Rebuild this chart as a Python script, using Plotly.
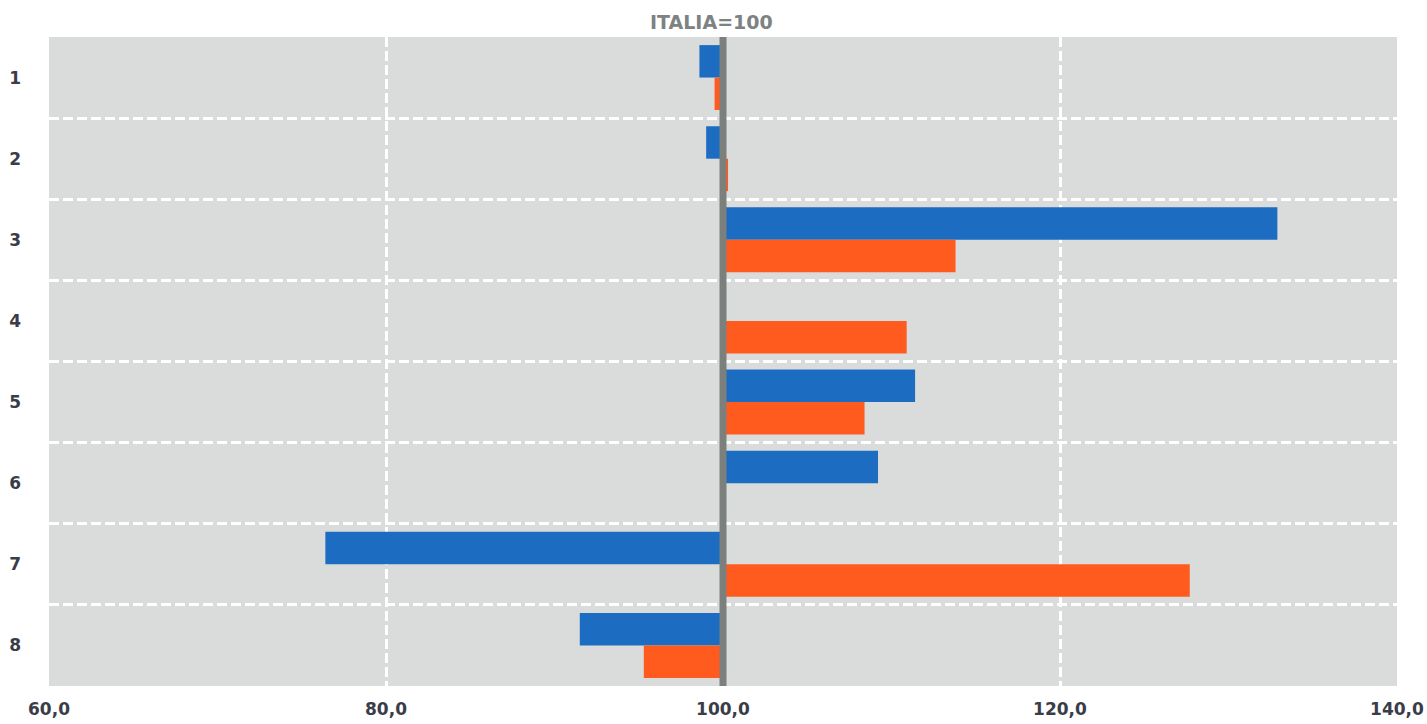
import plotly.graph_objects as go

categories = ["1", "2", "3", "4", "5", "6", "7", "8"]
blue_values = [98.6, 99.0, 132.9, 100.0, 111.4, 109.2, 76.4, 91.5]
orange_values = [99.5, 100.3, 113.8, 110.9, 108.4, 100.0, 127.7, 95.3]
reference = 100.0
x_ticks = [60, 80, 100, 120, 140]
x_tick_labels = ["60,0", "80,0", "100,0", "120,0", "140,0"]
ref_label = "ITALIA=100"

BLUE = "#1c6dc2"
ORANGE = "#ff5b1f"
BG = "#dadcdb"
TXT = "#3a3c48"

fig = go.Figure()
fig.add_trace(go.Bar(
    y=categories, x=[v - reference for v in blue_values], base=reference,
    orientation="h", marker=dict(color=BLUE, line=dict(width=0)), name="A",
))
fig.add_trace(go.Bar(
    y=categories, x=[v - reference for v in orange_values], base=reference,
    orientation="h", marker=dict(color=ORANGE, line=dict(width=0)), name="B",
))

fig.add_vline(x=reference, line=dict(color="#7b807d", width=7), layer="above")

fig.add_annotation(
    x=reference, xref="x", y=1, yref="paper", yanchor="bottom", xanchor="center",
    xshift=-12, yshift=2,
    text="<b>" + ref_label + "</b>", showarrow=False,
    font=dict(family="DejaVu Sans", size=19, color="#7d8283"),
)

fig.update_layout(
    width=1427, height=724,
    margin=dict(l=49, r=30, t=37, b=38),
    paper_bgcolor="white", plot_bgcolor=BG,
    barmode="group", bargap=0.2, bargroupgap=0,
    showlegend=False,
    font=dict(family="DejaVu Sans", size=18, color=TXT),
)
fig.update_xaxes(
    range=[60, 140], tickvals=x_ticks, ticktext=["<b>" + t + "</b>" for t in x_tick_labels],
    showgrid=True, gridcolor="white", gridwidth=2.5, griddash="10px,4px",
    zeroline=False, showline=False, ticks="", ticklabelstandoff=11, automargin=False,
    tickfont=dict(family="DejaVu Sans", size=17, color=TXT),
)
fig.update_yaxes(
    type="category", categoryorder="array", categoryarray=categories,
    autorange="reversed", tickson="boundaries",
    tickvals=categories, ticktext=["<b>" + c + "</b>" for c in categories],
    showgrid=True, gridcolor="white", gridwidth=2.5, griddash="10px,4px",
    zeroline=False, showline=False, ticks="", ticklabelstandoff=27, automargin=False,
    tickfont=dict(family="DejaVu Sans", size=17, color=TXT),
)

fig.write_html("out.html")
